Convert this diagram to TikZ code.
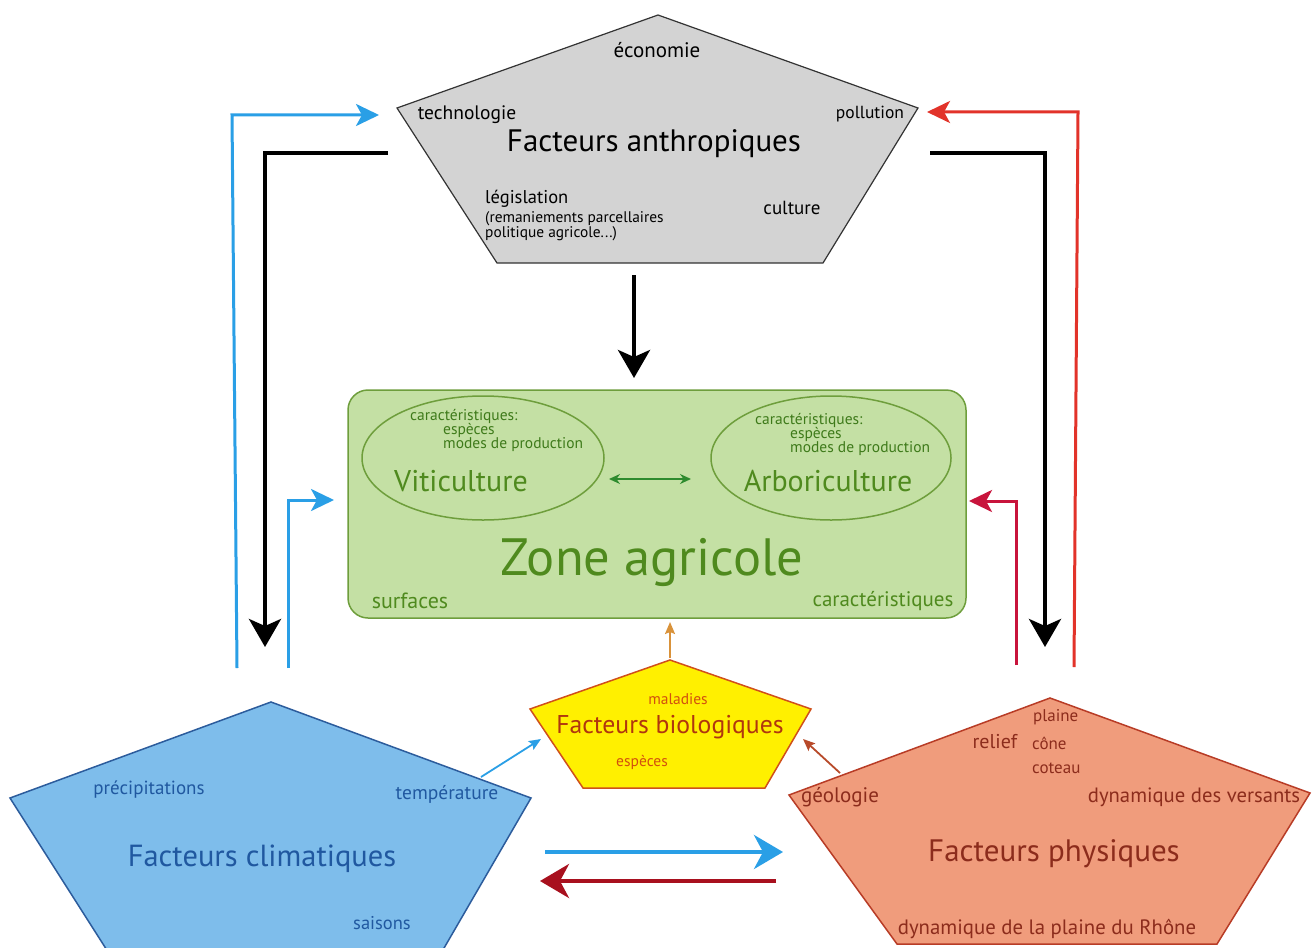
\documentclass[tikz,border=0pt]{standalone}
\usepackage{fontspec}
\setmainfont{PT Sans}
\usetikzlibrary{arrows.meta}
\definecolor{grayfill}{HTML}{D3D3D3}
\definecolor{greenfill}{HTML}{C4E0A4}
\definecolor{greenline}{HTML}{6E9E3C}
\definecolor{greentext}{HTML}{4F8A1E}
\definecolor{greendark}{HTML}{3E7A1A}
\definecolor{yellowfill}{HTML}{FFF000}
\definecolor{yellowline}{HTML}{D0501A}
\definecolor{yellowtext}{HTML}{B0360E}
\definecolor{yellowsmall}{HTML}{D2500E}
\definecolor{bluefill}{HTML}{7EBDEB}
\definecolor{blueline}{HTML}{2C5C9C}
\definecolor{bluetext}{HTML}{2058A0}
\definecolor{redfill}{HTML}{F09C7C}
\definecolor{redline}{HTML}{B83C26}
\definecolor{redtext}{HTML}{8C2C1C}
\definecolor{arrblue}{HTML}{2A9FE6}
\definecolor{arrred}{HTML}{E2332A}
\definecolor{arrcrimson}{HTML}{C8143C}
\definecolor{arrdarkred}{HTML}{A8101E}
\definecolor{arrorange}{HTML}{D9923A}
\definecolor{arrbrown}{HTML}{B84A2A}
\definecolor{arrgreen}{HTML}{2E8B2E}
\tikzset{
  lbl/.style={inner sep=0pt, font=\fontsize{#1}{#1}\selectfont},
  bigarrow/.style={line width=3pt, -{Stealth[length=23pt,width=22pt,inset=6pt]}},
  blackarrow/.style={line width=4pt, -{Stealth[length=28pt,width=32pt,inset=7pt]}},
  botarrow/.style={line width=4pt, -{Stealth[length=29pt,width=34pt,inset=9pt]}},
  thinarrow/.style={line width=1.8pt, -{Stealth[length=12pt,width=10pt,inset=2pt]}},
}
\begin{document}
\begin{tikzpicture}[x=1pt,y=-1pt]
\useasboundingbox (0,0) rectangle (1313,947);
\fill[white] (0,0) rectangle (1313,947);

% ---------- Facteurs anthropiques (gray pentagon)
\coordinate (ga) at (658,15);
\coordinate (gr) at (918,108);
\coordinate (gbr) at (823,263);
\coordinate (gbl) at (497,263);
\coordinate (gl) at (397,108);
\draw[fill=grayfill, draw=black!80, line width=1.2pt] (ga) -- (gr) -- (gbr) -- (gbl) -- (gl) -- cycle;
\node[lbl=21] (eco) at (657,50) {économie};
\node[lbl=19.5] (tech) at (467,115) {technologie};
\node[lbl=17.5] (poll) at (870,114) {pollution};
\node[lbl=31] (anthro) at (654,144) {Facteurs anthropiques};
\node[lbl=18.5, anchor=west] (legis) at (485,199) {législation};
\node[lbl=15.4, anchor=west, align=left, font=\fontsize{15.4}{13}\selectfont] (remem) at (485,226) {(remaniements parcellaires\\politique agricole...)};
\node[lbl=19] (cult) at (792,208) {culture};

% ---------- Zone agricole
\draw[fill=greenfill, draw=greenline, line width=1.5pt, rounded corners=20pt] (348,390) rectangle (966,618);
\draw[draw=greenline, line width=1.5pt] (483,458) ellipse [x radius=121, y radius=62];
\draw[draw=greenline, line width=1.5pt] (831,458) ellipse [x radius=120, y radius=62];
\node[lbl=15.5, text=greendark, anchor=west] (c1) at (410,416) {caractéristiques:};
\node[lbl=15.5, text=greendark, anchor=west] (e1) at (443,430.5) {espèces};
\node[lbl=15.5, text=greendark, anchor=west] (m1) at (443,445) {modes de production};
\node[lbl=30, text=greentext] (viti) at (461,481) {Viticulture};
\node[lbl=15.5, text=greendark, anchor=west] (c2) at (755,420) {caractéristiques:};
\node[lbl=15.5, text=greendark, anchor=west] (e2) at (790,434.5) {espèces};
\node[lbl=15.5, text=greendark, anchor=west] (m2) at (790,449) {modes de production};
\node[lbl=30, text=greentext] (arbo) at (828,481) {Arboriculture};
\node[lbl=52.5, text=greentext] (zonelbl) at (652,562) {Zone agricole};
\node[lbl=22, text=greentext] (surf) at (410,601) {surfaces};
\node[lbl=21, text=greentext] (carz) at (883,601) {caractéristiques};
\coordinate (vr) at (609,479);
\coordinate (al) at (691,479);
\draw[arrgreen, line width=1.8pt, {Stealth[length=11pt,width=10pt]}-{Stealth[length=11pt,width=10pt]}] (vr) -- (al);

% ---------- Facteurs biologiques (yellow)
\coordinate (ya) at (670,660);
\coordinate (yr) at (811,709);
\coordinate (ybr) at (765,788);
\coordinate (ybl) at (583,788);
\coordinate (yl) at (530,709);
\draw[fill=yellowfill, draw=yellowline, line width=1.5pt] (ya) -- (yr) -- (ybr) -- (ybl) -- (yl) -- cycle;
\node[lbl=15.5, text=yellowsmall] (mal) at (678,699) {maladies};
\node[lbl=25.7, text=yellowtext] (bio) at (670,727) {Facteurs biologiques};
\node[lbl=15.5, text=yellowsmall] (esp) at (642,762) {espèces};

% ---------- Facteurs climatiques (blue)
\coordinate (ba) at (271,702);
\coordinate (br) at (531,798);
\coordinate (bbr) at (440,955);
\coordinate (bbl) at (110,955);
\coordinate (bl) at (10,798);
\draw[fill=bluefill, draw=blueline, line width=1.5pt] (ba) -- (br) -- (bbr) -- (bbl) -- (bl) -- cycle;
\node[lbl=19, text=bluetext] (prec) at (149,790) {précipitations};
\node[lbl=19.5, text=bluetext] (temp) at (447,794) {température};
\node[lbl=30.5, text=bluetext] (clim) at (262,859) {Facteurs climatiques};
\node[lbl=18.5, text=bluetext] (sais) at (382,923) {saisons};

% ---------- Facteurs physiques (red)
\coordinate (ra) at (1050,698);
\coordinate (rr) at (1310,793);
\coordinate (rbr) at (1217,944);
\coordinate (rbl) at (897,944);
\coordinate (rl) at (789,795);
\draw[fill=redfill, draw=redline, line width=1.5pt] (ra) -- (rr) -- (rbr) -- (rbl) -- (rl) -- cycle;
\node[lbl=17, text=redtext, anchor=west] (plaine) at (1033,717) {plaine};
\node[lbl=20, text=redtext] (relief) at (995,742) {relief};
\node[lbl=17, text=redtext, anchor=west] (cone) at (1032,743) {cône};
\node[lbl=17, text=redtext, anchor=west] (cot) at (1032,768) {coteau};
\node[lbl=21, text=redtext] (geo) at (840,797) {géologie};
\node[lbl=20.7, text=redtext] (versants) at (1194,797) {dynamique des versants};
\node[lbl=31, text=redtext] (phys) at (1054,854) {Facteurs physiques};
\node[lbl=20.8, text=redtext] (rhone) at (1047,929) {dynamique de la plaine du Rhône};

% ---------- Arrows
% top -> zone
\coordinate (t1) at (634,275);
\coordinate (t2) at (634,378);
\draw[blackarrow] (t1) -- (t2);
% left side
\coordinate (lb1) at (237,668);
\coordinate (lb2) at (379,115);
\draw[arrblue, bigarrow] (lb1) -- (232,115) -- (lb2);
\coordinate (lk1) at (388,153);
\coordinate (lk2) at (265,647);
\draw[blackarrow] (lk1) -- (265,153) -- (lk2);
\coordinate (ls1) at (288,668);
\coordinate (ls2) at (334,500);
\draw[arrblue, bigarrow] (ls1) -- (288,500) -- (ls2);
% right side
\coordinate (rr1) at (1074,667);
\coordinate (rr2) at (927,112);
\draw[arrred, bigarrow] (rr1) -- (1078,112) -- (rr2);
\coordinate (rk1) at (930,153);
\coordinate (rk2) at (1045,647);
\draw[blackarrow] (rk1) -- (1045,153) -- (rk2);
\coordinate (rs1) at (1016,665);
\coordinate (rs2) at (969,501);
\draw[arrcrimson, bigarrow] (rs1) -- (1016,501) -- (rs2);
% bottom
\coordinate (bb1) at (545,852);
\coordinate (bb2) at (783,852);
\draw[arrblue, botarrow] (bb1) -- (bb2);
\coordinate (br1) at (776,881);
\coordinate (br2) at (540,881);
\draw[arrdarkred, botarrow] (br1) -- (br2);
% small arrows
\coordinate (y1) at (670,658);
\coordinate (y2) at (670,622);
\draw[arrorange, thinarrow] (y1) -- (y2);
\coordinate (tb1) at (481,777);
\coordinate (tb2) at (541,739);
\draw[arrblue, thinarrow] (tb1) -- (tb2);
\coordinate (gb1) at (840,773);
\coordinate (gb2) at (803,739);
\draw[arrbrown, thinarrow] (gb1) -- (gb2);
\end{tikzpicture}
\end{document}
